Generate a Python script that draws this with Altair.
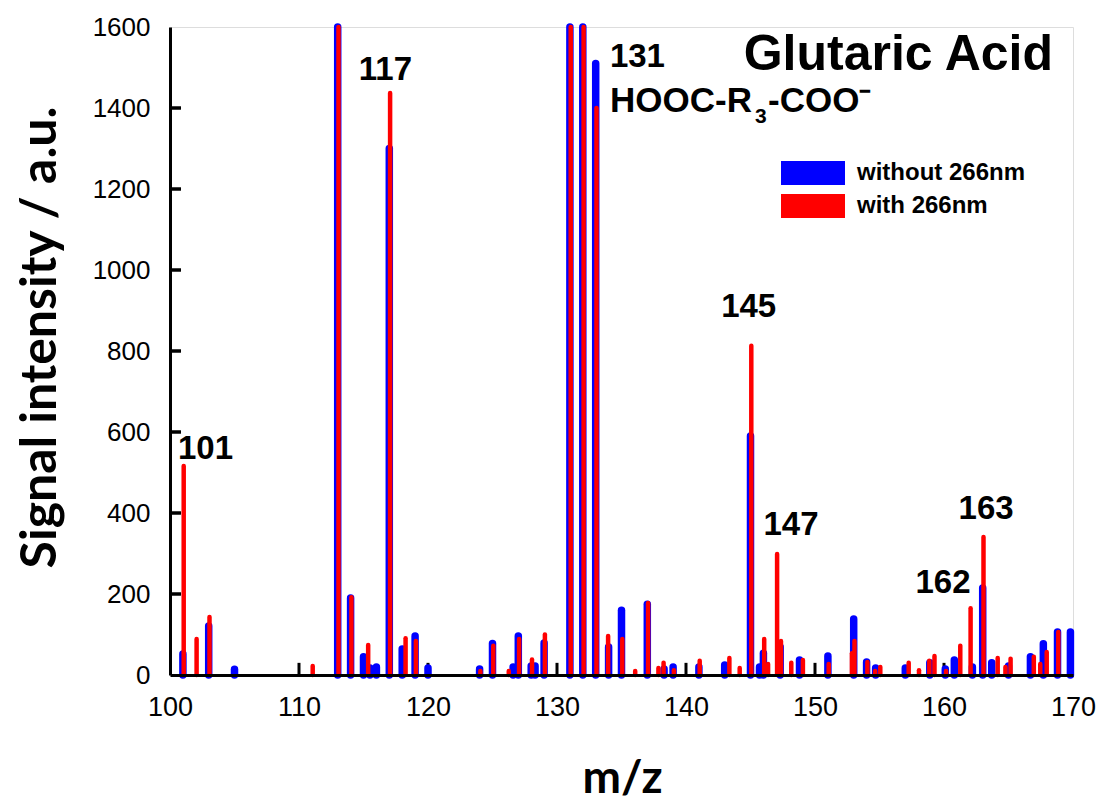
import altair as alt
import pandas as pd

# ---- data ----
blue_mz = [101, 103, 105, 113, 114, 115, 115.5, 116, 117, 118, 119, 120, 124, 125, 126.6,
           127, 128, 128.3, 129, 131, 132, 133, 134, 135, 137, 138.3, 139, 141, 143, 145,
           145.7, 146, 147.3, 148.8, 151, 153, 154, 154.7, 157, 158.9, 160.1, 160.8, 162.2, 163, 163.7,
           165, 166.7, 167.7, 168.8, 169.8]
blue_val = [52, 121, 14, 1600, 190, 45, 17, 20, 1300, 64, 96, 17, 15, 78, 20,
            96, 22, 22, 79, 1600, 1600, 1510, 69, 160, 175, 15, 20, 20, 25, 590,
            20, 54, 69, 37, 47, 138, 32, 17, 17, 30, 15, 37, 20, 215, 30,
            22, 45, 77, 106, 106]

red_mz = [101, 102, 103, 111, 113, 114, 115.3, 117, 118.2, 119, 124, 125, 126.2, 127, 128,
          129, 131, 132, 133, 133.9, 135, 136, 137, 137.8, 138.2, 139, 141, 143.3, 144.1, 145,
          146, 146.3, 147, 147.3, 148.1, 149, 151, 152.8, 153, 154, 154.6, 155, 157.2, 158, 158.8,
          159.2, 160.1, 161.2, 162, 163, 164.1, 164.7, 165.1, 166.9, 167.4, 167.9, 168.8]
red_val = [516, 89, 143, 22, 1600, 192, 74, 1437, 91, 84, 10, 72, 10, 89, 38,
           100, 1600, 1600, 1400, 96, 89, 10, 178, 17, 30, 12, 35, 42, 17, 813,
           89, 27, 299, 84, 30, 37, 27, 54, 84, 32, 10, 20, 30, 12, 35,
           47, 10, 72, 165, 341, 42, 20, 40, 45, 27, 57, 106]

series_names = ["without 266nm", "with 266nm"]
series_colors = ["#0000FF", "#FF0000"]

x_ticks = [100, 110, 120, 130, 140, 150, 160, 170]
y_ticks = [0, 200, 400, 600, 800, 1000, 1200, 1400, 1600]

peak_labels = ["101", "117", "145", "147", "162", "163"]
peak_label_mz = [102.75, 116.7, 144.86, 148.14, 159.92, 163.26]
peak_label_y = [533, 1469, 884, 346, 202, 385]

# ---- tables ----
blue_df = pd.DataFrame({"mz": blue_mz, "intensity": blue_val, "series": series_names[0]})
red_df = pd.DataFrame({"mz": red_mz, "intensity": red_val, "series": series_names[1]})
xtick_df = pd.DataFrame({"mz": x_ticks[1:-1], "intensity": 0, "top": 30})
ytick_df = pd.DataFrame({"mz": [100.0] * 7, "mz2": [100.85] * 7,
                         "intensity": y_ticks[1:-1], "intensity2": y_ticks[1:-1]})
ytick2_df = pd.DataFrame({"mz": [100.42] * 7, "intensity": y_ticks[1:-1]})
ann_df = pd.DataFrame({"label": peak_labels, "mz": peak_label_mz, "intensity": peak_label_y})
ann131_df = pd.DataFrame({"label": ["131"], "mz": [134.1], "intensity": [1501]})

xscale = alt.Scale(domain=[100, 170], nice=False, zero=False)
yscale = alt.Scale(domain=[0, 1600], nice=False)

x_axis = alt.Axis(values=x_ticks, ticks=False, labelFont="Liberation Sans", labelFontSize=27,
                  labelColor="black", labelPadding=19, domainColor="black", domainWidth=3,
                  grid=False, title="m/z", titleFont="Lato", titleFontWeight="bold",
                  titleFontSize=46, titleColor="black", titleBaseline="alphabetic",
                  titleY=117, titleX=452, zindex=1, labelFlush=False, format="d")
y_axis = alt.Axis(values=y_ticks, ticks=False, labelFont="Liberation Sans", labelFontSize=26,
                  labelColor="black", labelPadding=20, domainColor="black", domainWidth=3,
                  grid=False, title="Signal intensity / a.u.", titleFont="Lato",
                  titleFontWeight="bold", titleFontSize=50, titleColor="black",
                  titleX=-105, titleY=310, titleAngle=-90, titleBaseline="bottom",
                  titleAlign="center", zindex=1, labelFlush=False, format="d")

X = alt.X("mz:Q", scale=xscale, axis=x_axis)
Y = alt.Y("intensity:Q", scale=yscale, axis=y_axis)

color = alt.Color("series:N",
                  scale=alt.Scale(domain=series_names, range=series_colors),
                  legend=alt.Legend(title=None, orient="none", legendX=599, legendY=134,
                                    symbolType="stroke", symbolSize=4096, symbolStrokeWidth=24,
                                    labelFont="Liberation Sans", labelFontWeight="bold",
                                    labelFontSize=24, labelColor="black", labelOffset=0,
                                    labelLimit=400, clipHeight=24, rowPadding=9))

xticks_layer = alt.Chart(xtick_df).mark_rule(color="black", strokeWidth=3).encode(
    x=X, y=Y, y2="top:Q")
yticks_layer = alt.Chart(ytick_df).mark_rule(color="black", strokeWidth=3).encode(
    x=X, x2="mz2:Q", y=Y, y2="intensity2:Q")
yticks2_layer = alt.Chart(ytick2_df).mark_tick(
    color="black", orient="horizontal", size=11, thickness=3, opacity=1).encode(x=X, y=Y)

blue_layer = alt.Chart(blue_df).mark_rule(strokeWidth=7.5, strokeCap="round").encode(
    x=X, y=Y, y2=alt.datum(0), color=color)
red_layer = alt.Chart(red_df).mark_rule(strokeWidth=4.5, strokeCap="round", xOffset=0.8).encode(
    x=X, y=Y, y2=alt.datum(0), color=color)

ann_layer = alt.Chart(ann_df).mark_text(font="Liberation Sans", fontWeight="bold", fontSize=33,
                                        color="black", align="center", baseline="alphabetic").encode(
    x=X, y=Y, text="label:N")
ann131_layer = alt.Chart(ann131_df).mark_text(font="Liberation Sans", fontWeight="bold", fontSize=33,
                                              color="black", align="left", baseline="alphabetic").encode(
    x=X, y=Y, text="label:N")

def txt(s, px, py, size, align="left"):
    return alt.Chart(pd.DataFrame({"t": [s]})).mark_text(
        font="Liberation Sans", fontWeight="bold", fontSize=size, color="black",
        align=align, baseline="alphabetic").encode(
        x=alt.value(px), y=alt.value(py), text="t:N")

formula = (txt("HOOC-R", 440, 85, 35) + txt("3", 585, 96, 21) +
           txt("-COO\u207b", 598, 85, 35))
title_txt = txt("Glutaric Acid", 883, 43, 50, align="right")

chart = alt.layer(
    xticks_layer, yticks_layer, yticks2_layer, blue_layer, red_layer, ann_layer, ann131_layer,
    formula, title_txt
).properties(
    width=903, height=648,
    autosize=alt.AutoSizeParams(type="none"),
    padding={"left": 170, "top": 27, "right": 29, "bottom": 128},
).configure_view(stroke="black", strokeWidth=3).configure(background="white")

chart.save("out.html", embed_options={"renderer": "svg", "actions": False})
